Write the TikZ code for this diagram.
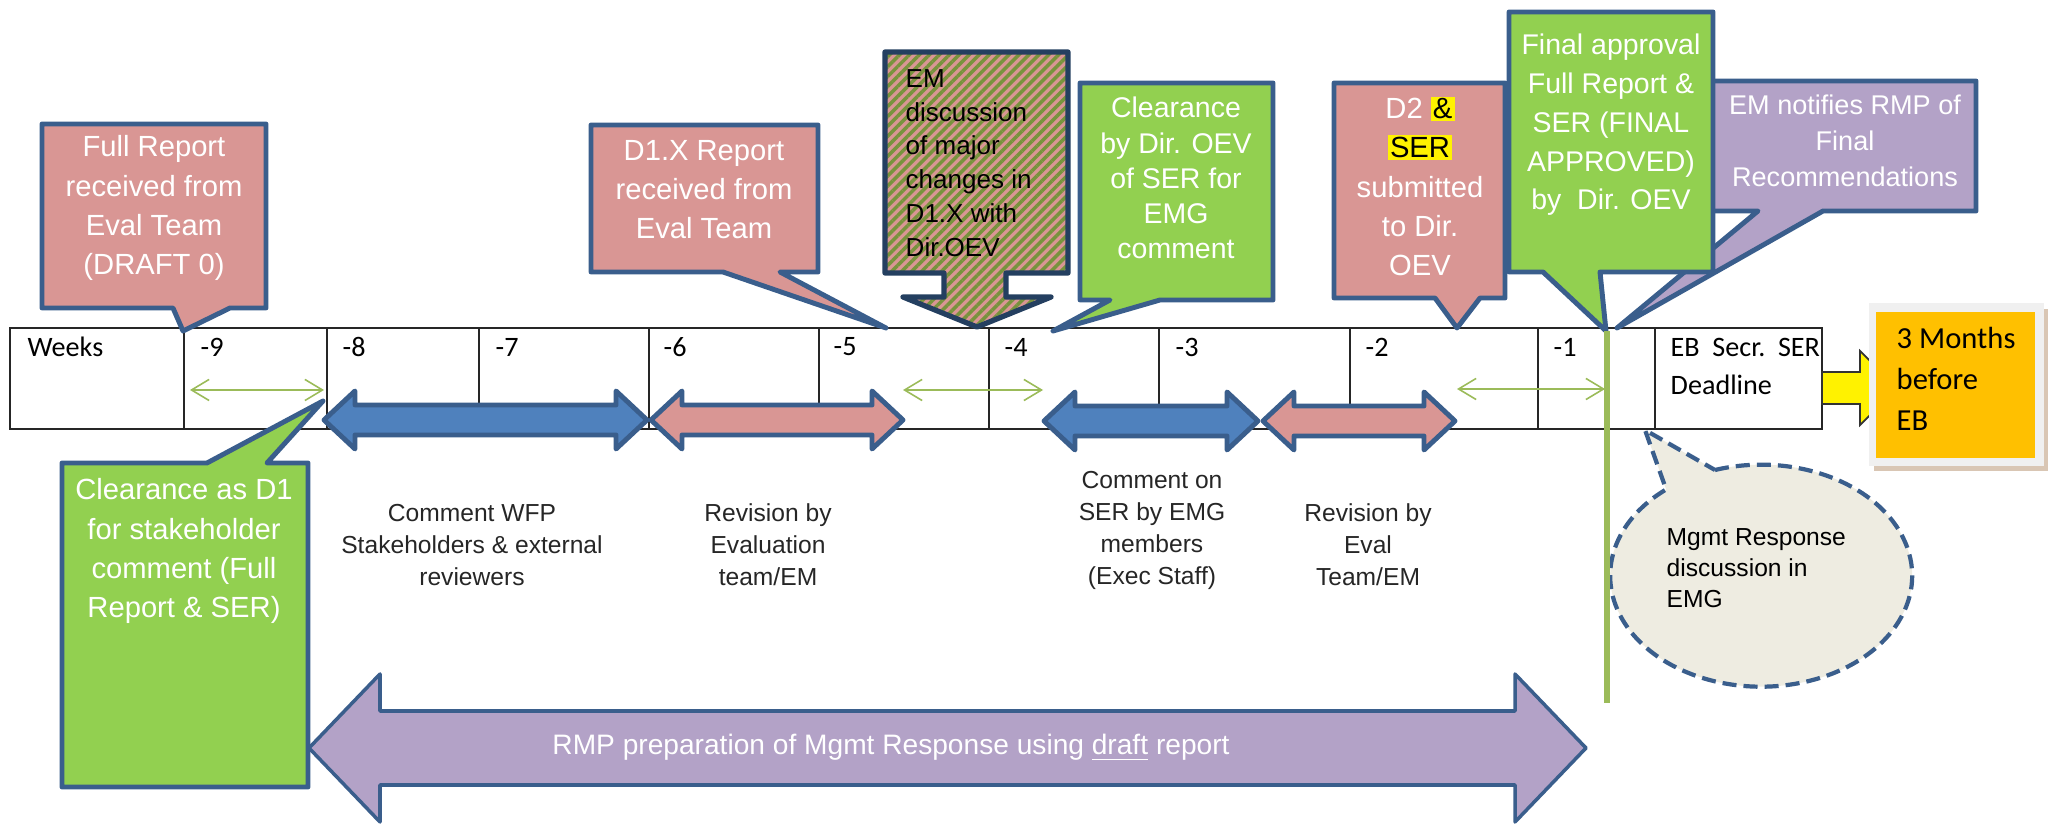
\documentclass[tikz,border=0pt]{standalone}
\usepackage{fontspec}
\setmainfont{Liberation Sans}
\newfontfamily\calfont{Carlito}
\usetikzlibrary{arrows.meta,patterns.meta}
\definecolor{pinkc}{HTML}{D99694}
\definecolor{greenc}{HTML}{92D050}
\definecolor{bluec}{HTML}{4F81BD}
\definecolor{purplec}{HTML}{B3A2C7}
\definecolor{outc}{HTML}{3A5E8C}
\definecolor{darkout}{HTML}{243F60}
\definecolor{stripec}{HTML}{77933C}
\definecolor{lgreen}{HTML}{9BBB59}
\definecolor{vgreen}{HTML}{9BBB59}
\definecolor{cloudc}{HTML}{EEECE1}
\definecolor{orangec}{HTML}{FFC000}
\definecolor{shadowc}{HTML}{D9C6B4}
\newcommand{\yhl}[1]{{\setlength{\fboxsep}{0.6pt}\colorbox{yellow}{\textcolor{black}{#1}}}}
% callout with pointer below: style, x1,y1,x2,y2, base1, base2, tipx, tipy
\newcommand{\mycallout}[9]{\draw[#1] (#2,#3) -- (#4,#3) -- (#4,#5) -- (#7,#5) -- (#8,#9) -- (#6,#5) -- (#2,#5) -- cycle;}
% double block arrow: style, x1, x2, yc, head half height, shaft half height, head length
\newcommand{\mydbl}[7]{\draw[#1] (#2,#4) -- ({#2+#7},{#4-#5}) -- ({#2+#7},{#4-#6}) -- ({#3-#7},{#4-#6}) -- ({#3-#7},{#4-#5}) -- (#3,#4) -- ({#3-#7},{#4+#5}) -- ({#3-#7},{#4+#6}) -- ({#2+#7},{#4+#6}) -- ({#2+#7},{#4+#5}) -- cycle;}
\begin{document}
\begin{tikzpicture}[x=0.01cm,y=-0.01cm,
  tbl/.style={draw=black!85,line width=0.55pt},
  wk/.style={anchor=west,inner sep=0,font=\calfont\fontsize{8}{10}\selectfont},
  co/.style={draw=outc,line width=1.4pt,line join=round},
  ct/.style={text=white,align=center,inner sep=0,font=\fontsize{8.3}{11.1}\selectfont},
  thinarrow/.style={draw=lgreen,line width=0.45pt,{Straight Barb[length=5pt,width=6pt]}-{Straight Barb[length=5pt,width=6pt]}},
  blk/.style={draw=outc,line width=1.4pt,line join=round},
  lbl/.style={align=center,inner sep=0,font=\fontsize{7}{9.1}\selectfont,text=black!85},
]
\useasboundingbox (0,0) rectangle (2051,825);

% ---------- table ----------
\draw[tbl,fill=white] (10,328) rectangle (1822,429);
\foreach \x in {184,327,479,649,819,989,1159,1350,1538,1655} \draw[tbl] (\x,328) -- (\x,429);
\node[wk] (wWeeks) at (27,347) {Weeks};
\node[wk] (w9) at (200,347) {-9};
\node[wk] (w8) at (342,347) {-8};
\node[wk] (w7) at (495,347) {-7};
\node[wk] (w6) at (663,347) {-6};
\node[wk] (w5) at (833,347) {-5};
\node[wk] (w4) at (1004,347) {-4};
\node[wk] (w3) at (1175,347) {-3};
\node[wk] (w2) at (1365,347) {-2};
\node[wk] (w1) at (1553,347) {-1};
\node[wk] (wEB) at (1670,347) {EB\ \ Secr.\ \ SER};
\node[wk] (wDL) at (1670,385) {Deadline};

% ---------- thin green double arrows ----------
\coordinate (g1a) at (190,390); \coordinate (g1b) at (324,390);
\coordinate (g2a) at (903,390); \coordinate (g2b) at (1043,390);
\coordinate (g3a) at (1457,389); \coordinate (g3b) at (1605,389);
\draw[thinarrow] (g1a) -- (g1b);
\draw[thinarrow] (g2a) -- (g2b);
\draw[thinarrow] (g3a) -- (g3b);

% ---------- thick double arrows ----------
\mydbl{blk,fill=bluec}{324}{647}{420}{29}{15}{31}
\mydbl{blk,fill=pinkc}{651}{903}{420}{29}{15}{31}
\mydbl{blk,fill=bluec}{1044}{1258}{421}{29}{15}{31}
\mydbl{blk,fill=pinkc}{1263}{1455}{421}{29}{15}{31}

% ---------- callouts ----------
\mycallout{co,fill=pinkc}{42}{124}{266}{308}{173}{230}{183}{331}
\node[ct] (tFull) at (154,208) {Full Report\\received from\\Eval Team\\(DRAFT 0)};

\draw[co,fill=greenc] (62,463) -- (207,463) -- (323,401) -- (267,463) -- (308,463) -- (308,787) -- (62,787) -- cycle;
\node[ct] (tClr1) at (184,551) {Clearance as D1\\for stakeholder\\comment (Full\\Report \& SER)};

\mycallout{co,fill=pinkc}{591}{125}{818}{272}{723}{780}{886}{328}
\node[ct] (tD1X) at (704,190) {D1.X Report\\received from\\Eval Team};

\draw[draw=darkout,line width=1.5pt,line join=round,preaction={fill=pinkc},
      pattern={Lines[angle=45,distance=2pt,line width=1pt]},pattern color=stripec]
  (885,52) -- (1068,52) -- (1068,273) -- (1006,273) -- (1006,297) -- (1051,297) -- (977,327)
  -- (903,297) -- (944,297) -- (944,273) -- (885,273) -- cycle;
\node[anchor=west,align=left,inner sep=0,font=\fontsize{7.4}{9.6}\selectfont] (tEM) at (905,163)
  {EM\\discussion\\of major\\changes in\\D1.X with\\Dir.OEV};

\mycallout{co,fill=greenc}{1080}{83}{1273}{300}{1110}{1160}{1053}{331}
\node[ct,font=\fontsize{8.1}{10}\selectfont] (tClr2) at (1176,178) {Clearance\\by Dir. OEV\\of SER for\\EMG\\comment};

\mycallout{co,fill=pinkc}{1334}{83}{1505}{298}{1435}{1480}{1457}{328}
\node[ct] (tD2) at (1420,186) {D2 \yhl{\&}\\\yhl{SER}\\submitted\\to Dir.\\OEV};

\mycallout{co,fill=purplec}{1690}{81}{1976}{211}{1758}{1823}{1617}{328}
\node[ct,font=\fontsize{7.7}{10.2}\selectfont] (tNot) at (1845,141) {EM notifies RMP of\\Final\\Recommendations};

\mycallout{co,fill=greenc}{1509}{12}{1713}{272}{1543}{1600}{1606}{331}
\node[ct,font=\fontsize{8.1}{11}\selectfont] (tFin) at (1611,125) {Final approval\\Full Report \&\\SER (FINAL\\APPROVED)\\by\ \ Dir. OEV};

% ---------- cloud ----------
\draw[draw=outc,line width=1.2pt,dash pattern=on 4pt off 2pt,fill=cloudc,line join=round]
  (1715,470) arc[start angle=-107.8,end angle=231,x radius=151,y radius=111] -- (1645,430) -- cycle;
\node[anchor=west,align=left,inner sep=0,font=\fontsize{7}{8.8}\selectfont] (tMgmt) at (1666,568)
  {Mgmt Response\\discussion in\\EMG};

% ---------- green vertical line ----------
\coordinate (vtop) at (1607,331);
\coordinate (vbot) at (1607,703);
\draw[draw=vgreen,line width=1.7pt] (vtop) -- (vbot);

% ---------- yellow arrow and orange box ----------
\draw[fill=yellow,draw=black!80,line width=0.5pt] (1822,372) -- (1860,372) -- (1860,351) -- (1897,388) -- (1860,425) -- (1860,404) -- (1822,404) -- cycle;
\fill[shadowc] (1874,309) rectangle (2048,471);
\fill[black!6] (1869,303) rectangle (2044,466);
\fill[orangec] (1876,312) rectangle (2035,458);
\node[anchor=west,align=left,inner sep=0,font=\calfont\fontsize{8.7}{11.7}\selectfont] (tOr) at (1896,379) {3 Months\\before\\EB};

% ---------- big purple arrow ----------
\mydbl{draw=outc,line width=1pt,line join=round,fill=purplec}{309}{1586}{748}{74}{37}{71}
\node[text=white,inner sep=0,font=\fontsize{8}{10}\selectfont] (tRMP) at (891,748) {RMP preparation of Mgmt Response using \underline{draft} report};

% ---------- labels ----------
\node[lbl] (lC1) at (472,545) {Comment WFP\\Stakeholders \& external\\reviewers};
\node[lbl] (lR1) at (768,545) {Revision by\\Evaluation\\team/EM};
\node[lbl] (lC2) at (1152,530) {Comment on\\SER by EMG\\members\\(Exec Staff)};
\node[lbl] (lR2) at (1368,545) {Revision by\\Eval\\Team/EM};
\end{tikzpicture}
\end{document}
